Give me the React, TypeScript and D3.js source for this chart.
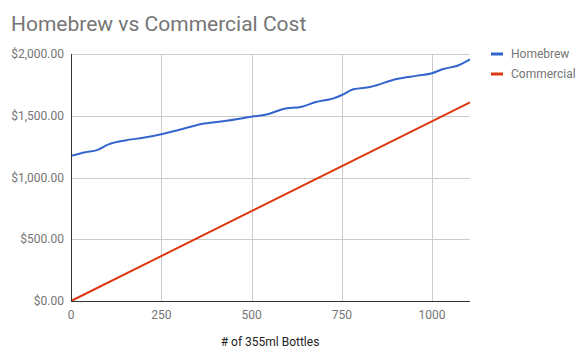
import React, { useEffect, useRef } from 'react';
import * as d3 from 'd3';

const bottles = [0, 40, 72, 104, 150, 200, 250, 300, 362, 420, 500, 547, 588, 639, 676, 727, 750, 782, 828, 902, 960, 1000, 1031, 1068, 1105];
const homebrew = [1175, 1205, 1222, 1268, 1300, 1322, 1350, 1387, 1433, 1455, 1492, 1514, 1555, 1573, 1609, 1641, 1668, 1714, 1733, 1798, 1825, 1844, 1879, 1903, 1957];
const commercialBottles = [0, 1105];
const commercial = [0, 1608];
const xTicks = [0, 250, 500, 750, 1000];
const yTicks = [0, 500, 1000, 1500, 2000];

const series = [
    { name: 'Homebrew', color: '#3366cc', xs: bottles, ys: homebrew },
    { name: 'Commercial', color: '#dc3912', xs: commercialBottles, ys: commercial }
];

export default function App() {
    const svgRef = useRef<SVGSVGElement>(null);

    useEffect(() => {
        const svg = d3.select(svgRef.current);
        svg.selectAll('*').remove();

        const W = 587, H = 362;
        const left = 71, right = 470, top = 54, bottom = 301;
        const font = 'Roboto, sans-serif';

        svg.attr('width', W).attr('height', H).style('display', 'block')
            .style('background', '#fff');

        const x = d3.scaleLinear().domain([0, 1105]).range([left, right]);
        const y = d3.scaleLinear().domain([0, 2000]).range([bottom, top]);

        // title
        svg.append('text')
            .attr('x', 11).attr('y', 31)
            .attr('font-family', font).attr('font-size', 21)
            .attr('fill', '#757575')
            .text('Homebrew vs Commercial Cost');

        // gridlines
        yTicks.filter(t => t > 0).forEach(t => {
            svg.append('line')
                .attr('x1', left).attr('x2', right)
                .attr('y1', Math.round(y(t)) + 0.5).attr('y2', Math.round(y(t)) + 0.5)
                .attr('stroke', '#cccccc');
        });
        xTicks.filter(t => t > 0).forEach(t => {
            svg.append('line')
                .attr('x1', Math.round(x(t)) + 0.5).attr('x2', Math.round(x(t)) + 0.5)
                .attr('y1', top).attr('y2', bottom)
                .attr('stroke', '#cccccc');
        });

        // y labels
        const fmt = d3.format('$,.2f');
        yTicks.forEach(t => {
            svg.append('text')
                .attr('x', 64).attr('y', y(t) + 4)
                .attr('text-anchor', 'end')
                .attr('font-family', font).attr('font-size', 12)
                .attr('fill', '#757575')
                .text(fmt(t));
        });
        // x labels
        xTicks.forEach(t => {
            svg.append('text')
                .attr('x', x(t)).attr('y', 319)
                .attr('text-anchor', 'middle')
                .attr('font-family', font).attr('font-size', 12)
                .attr('fill', '#757575')
                .text(t);
        });

        // axis title
        svg.append('text')
            .attr('x', 270).attr('y', 346)
            .attr('text-anchor', 'middle')
            .attr('font-family', font).attr('font-size', 12)
            .attr('fill', '#222222')
            .text('# of 355ml Bottles');

        // lines
        series.forEach(s => {
            const pts = s.xs.map((v, i) => [v, s.ys[i]] as [number, number]);
            const line = d3.line<[number, number]>()
                .x(d => x(d[0]))
                .y(d => y(d[1]))
                .curve(d3.curveMonotoneX);
            svg.append('path')
                .datum(pts)
                .attr('fill', 'none')
                .attr('stroke', s.color)
                .attr('stroke-width', 2)
                .attr('stroke-linejoin', 'round')
                .attr('d', line);
        });

        // baselines
        svg.append('line')
            .attr('x1', left + 0.5).attr('x2', left + 0.5)
            .attr('y1', top).attr('y2', bottom + 1)
            .attr('stroke', '#333333');
        svg.append('line')
            .attr('x1', left).attr('x2', right)
            .attr('y1', bottom + 0.5).attr('y2', bottom + 0.5)
            .attr('stroke', '#333333');

        // legend
        series.forEach((s, i) => {
            const cy = 54 + i * 20;
            svg.append('rect')
                .attr('x', 491).attr('y', cy - 1.5)
                .attr('width', 12).attr('height', 3)
                .attr('fill', s.color);
            svg.append('text')
                .attr('x', 511).attr('y', cy + 4)
                .attr('font-family', font).attr('font-size', 12)
                .attr('fill', '#757575')
                .text(s.name);
        });
    }, []);

    return <svg ref={svgRef} style={{ position: 'absolute', left: 0, top: 0 }} />;
}
